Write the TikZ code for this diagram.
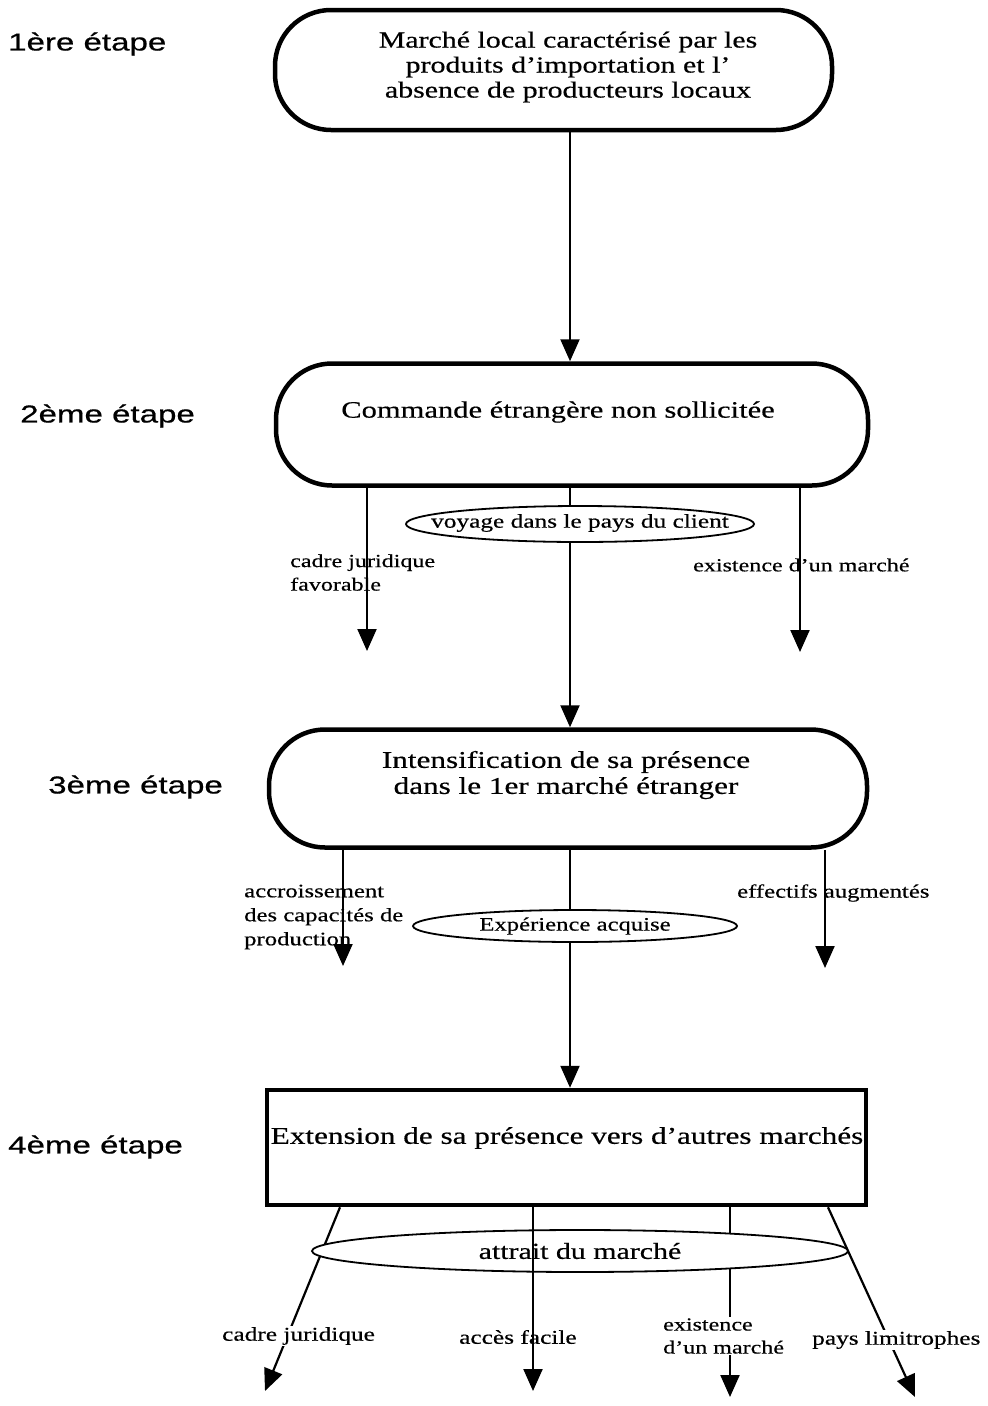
\documentclass[tikz,border=0pt]{standalone}
\usepackage{fontspec}
\usetikzlibrary{shapes.geometric,arrows.meta}
\newfontfamily\boxfont[FakeStretch=1.3,FakeBold=0.5]{Liberation Serif}
\newfontfamily\stagefont[FakeStretch=1.35,FakeBold=0.6]{Liberation Sans}
\newcommand{\fsz}[2]{\fontsize{#1}{#2}\selectfont}
\begin{document}
\begin{tikzpicture}[x=1pt,y=-1pt,
  stadium/.style={draw,line width=4.5pt,rounded corners=56pt,inner sep=0pt},
  plainbox/.style={draw,line width=4.5pt,inner sep=0pt},
  bubble/.style={ellipse,draw,line width=1.8pt,fill=white,inner sep=0pt},
  flow/.style={line width=2.2pt,-{Triangle[length=22pt,width=19pt]}},
  link/.style={line width=2.2pt},
  stage/.style={anchor=west,inner sep=0pt,font=\stagefont\fsz{24.5}{28}},
  boxtext/.style={inner sep=0pt,align=center,font=\boxfont\fsz{23}{25}},
  note/.style={anchor=west,inner sep=0pt,align=left,font=\boxfont\fsz{18.5}{23.5}},
  mask/.style={fill=white,inner sep=1pt}]
\useasboundingbox (0,0) rectangle (988,1406);

% stage labels
\node[stage] (s1) at (8,44) {1ère étape};
\node[stage] (s2) at (20,416) {2ème étape};
\node[stage] (s3) at (48,787) {3ème étape};
\node[stage] (s4) at (8,1147) {4ème étape};

% main column
\coordinate (col) at (570,0);

% step 1
\node[stadium,minimum width=557pt,minimum height=120pt] (b1) at (553.5,70) {};
\node[boxtext] (t1) at (568,67) {Marché local caractérisé par les\\produits d’importation et l’\\absence de producteurs locaux};

% step 2
\node[stadium,minimum width=592pt,minimum height=122pt] (b2) at (572,424.5) {};
\node[boxtext,font=\boxfont\fsz{23.5}{27}] (t2) at (558,412) {Commande étrangère non sollicitée};
\draw[flow] (b1.south -| col) -- (b2.north -| col);

\node[bubble,minimum width=348pt,minimum height=36pt] (e2) at (580,524) {};
\node[inner sep=0pt,font=\boxfont\fsz{19.5}{24}] (te2) at (580,523) {voyage dans le pays du client};

\node[note] (n21) at (290,572.5) {cadre juridique\\favorable};
\node[note] (n22) at (693,565) {existence d’un marché};
\coordinate (l2) at (367,0);
\coordinate (r2) at (800,0);
\coordinate (f21) at (367,651);
\coordinate (f22) at (800,652);
\draw[flow] (b2.south -| l2) -- (f21);
\draw[flow] (b2.south -| r2) -- (f22);
\draw[link] (b2.south -| col) -- (e2.north -| col);

% step 3
\node[stadium,minimum width=598pt,minimum height=118pt] (b3) at (568,788.5) {};
\node[boxtext,font=\boxfont\fsz{24}{26}] (t3) at (566,775) {Intensification de sa présence\\dans le 1er marché étranger};
\draw[flow] (e2.south -| col) -- (b3.north -| col);

\node[bubble,minimum width=324pt,minimum height=32pt,font=\boxfont\fsz{19}{23}] (e3) at (575,926) {Expérience acquise};

\node[note,font=\boxfont\fsz{19}{24}] (n31) at (244,917) {accroissement\\des capacités de\\production};
\node[note,font=\boxfont\fsz{19}{24}] (n32) at (737,893) {effectifs augmentés};
\coordinate (l3) at (343,0);
\coordinate (r3) at (825,0);
\coordinate (f31) at (343,966);
\coordinate (f32) at (825,968);
\draw[flow] (b3.south -| l3) -- (f31);
\draw[flow] (b3.south -| r3) -- (f32);
\draw[link] (b3.south -| col) -- (e3.north -| col);

% step 4
\node[plainbox,minimum width=599pt,minimum height=115pt] (b4) at (566.5,1147.5) {};
\node[boxtext,font=\boxfont\fsz{24}{28}] (t4) at (567,1138) {Extension de sa présence vers d’autres marchés};
\draw[flow] (e3.south -| col) -- (b4.north -| col);

\coordinate (a1) at (340,0);
\coordinate (a2) at (533,0);
\coordinate (a3) at (730,0);
\coordinate (a4) at (828,0);
\coordinate (f41) at (265,1391);
\coordinate (f42) at (533,1391);
\coordinate (f43) at (730,1397);
\coordinate (f44) at (915,1397);

% connectors passing behind the ellipse
\draw[flow] (b4.south -| a1) -- (f41);
\draw[flow] (b4.south -| a3) -- (f43);
\draw[flow] (b4.south -| a4) -- (f44);

\node[bubble,minimum width=536pt,minimum height=42pt,font=\boxfont\fsz{23}{27}] (e4) at (580,1251) {attrait du marché};

\node[note,font=\boxfont\fsz{19.5}{24}] (n42) at (459,1337) {accès facile};
\draw[flow] (b4.south -| a2) -- (f42);

\node[note,mask,font=\boxfont\fsz{19.5}{24}] (n41) at (221,1336) {cadre juridique};
\node[note,mask,font=\boxfont\fsz{18.5}{23}] (n43) at (662,1336) {existence\\d’un marché};
\node[note,mask,font=\boxfont\fsz{19.5}{24}] (n44) at (811,1340) {pays limitrophes};
\end{tikzpicture}
\end{document}
